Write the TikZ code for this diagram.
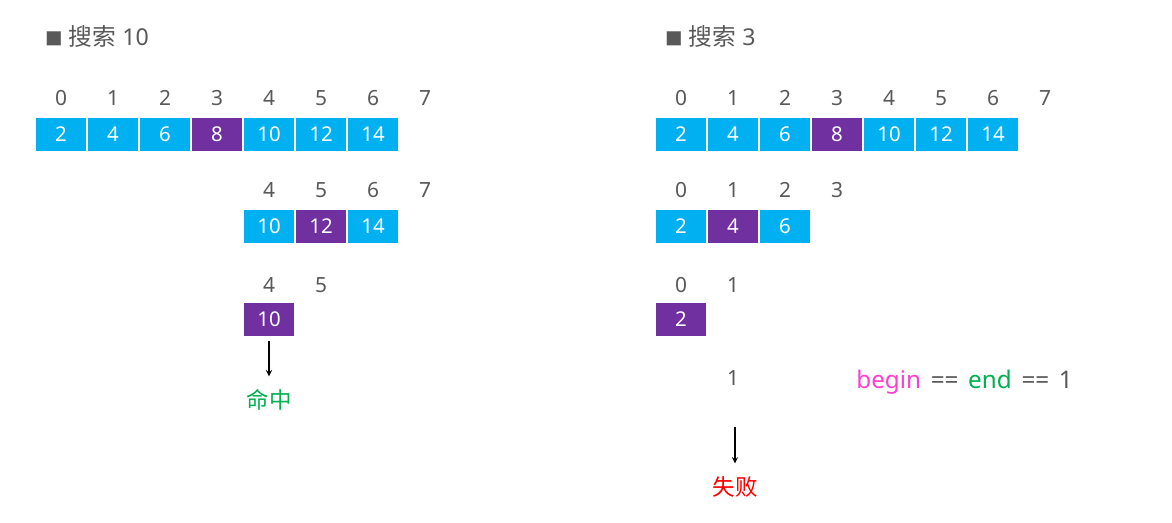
\documentclass[tikz,border=0pt]{standalone}
\usepackage{fontspec}
\setmainfont{Noto Sans}
\newfontfamily\cjk{Noto Sans CJK SC}
\usetikzlibrary{positioning}
\definecolor{cellblue}{HTML}{00B0F0}
\definecolor{cellpurple}{HTML}{7030A0}
\definecolor{textgray}{HTML}{595959}
\definecolor{hitgreen}{HTML}{00B050}
\definecolor{failred}{HTML}{FF0000}
\definecolor{beginpink}{HTML}{FF3FCF}
\newcommand{\gapsp}{\hspace{0.4em}}
\begin{document}
\begin{tikzpicture}[x=0.02cm, y=-0.02cm, >=stealth,
    cell/.style={draw=white, line width=0.6pt, fill=cellblue, text=white, minimum width=1.04cm, minimum height=0.7cm, inner sep=0pt, font=\fontsize{11.6}{13}\selectfont},
    hit/.style={cell, fill=cellpurple},
    idx/.style={text=textgray, inner sep=1pt, font=\fontsize{11.9}{13}\selectfont},
    title/.style={anchor=west, text=textgray, inner sep=0pt, font=\fontsize{13.2}{15}\selectfont}]
    \useasboundingbox[fill=white] (0,0) rectangle (1172,523);

    % Search 10
    \node[title] (titleA) at (45,37) {{\cjk\fontsize{10}{10}\selectfont ■} {\cjk\fontsize{13.5}{15}\selectfont 搜索} 10};
    \foreach \i in {0,...,7}
        \node[idx] (ia\i) at (61+52*\i,98) {\i};
    \foreach \v/\s [count=\i from 0] in {2/cell,4/cell,6/cell,8/hit,10/cell,12/cell,14/cell}
        \node[\s] (a\i) at (61+52*\i,134.5) {\v};
    \foreach \i in {4,...,7}
        \node[idx] (ib\i) at (61+52*\i,190) {\i};
    \foreach \v/\s [count=\i from 4] in {10/cell,12/hit,14/cell}
        \node[\s] (b\i) at (61+52*\i,226.5) {\v};
    \node[idx] (ic4) at (269,285) {4};
    \node[idx] (ic5) at (321,285) {5};
    \node[hit] (c4) at (269,319.5) {10};
    \node[text=hitgreen, font=\cjk\fontsize{12.8}{14}\selectfont] (found) at (269,400) {命中};
    \draw[->, semithick] (c4.south) -- (found.north) [shorten <=2pt, shorten >=4pt];

    % Search 3
    \node[title] (titleB) at (665,37) {{\cjk\fontsize{10}{10}\selectfont ■} {\cjk\fontsize{13.5}{15}\selectfont 搜索} 3};
    \foreach \i in {0,...,7}
        \node[idx] (ja\i) at (681+52*\i,98) {\i};
    \foreach \v/\s [count=\i from 0] in {2/cell,4/cell,6/cell,8/hit,10/cell,12/cell,14/cell}
        \node[\s] (d\i) at (681+52*\i,134.5) {\v};
    \foreach \i in {0,...,3}
        \node[idx] (jb\i) at (681+52*\i,190) {\i};
    \foreach \v/\s [count=\i from 0] in {2/cell,4/hit,6/cell}
        \node[\s] (e\i) at (681+52*\i,226.5) {\v};
    \node[idx] (jc0) at (681,285) {0};
    \node[idx] (jc1) at (733,285) {1};
    \node[hit] (f0) at (681,319.5) {2};
    \node[idx] (last) at (733,378) {1};
    \coordinate (failtop) at (735,427);
    \node[text=failred, font=\cjk\fontsize{12.8}{14}\selectfont] (miss) at (735,487) {失败};
    \draw[->, semithick] (failtop) -- (miss.north) [shorten >=4pt];
    \node[anchor=west, text=textgray, inner sep=0pt, font=\fontsize{13.8}{15}\selectfont] (cond) at (856,382)
        {\textcolor{beginpink}{begin}\gapsp==\gapsp\textcolor{hitgreen}{end}\gapsp==\gapsp1};
\end{tikzpicture}
\end{document}
